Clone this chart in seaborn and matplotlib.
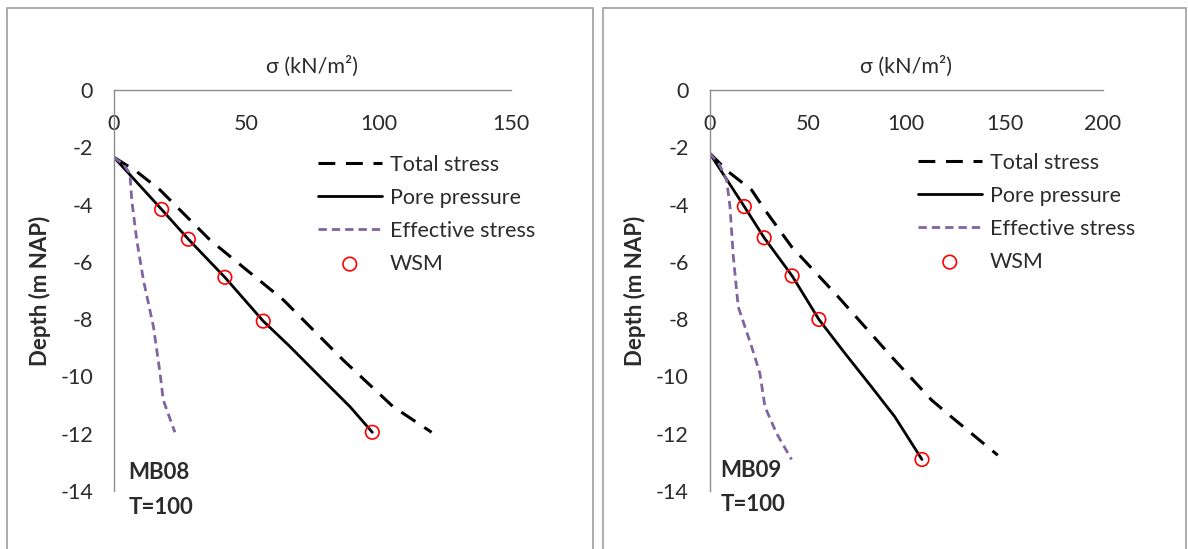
import matplotlib.pyplot as plt
from matplotlib.patches import Rectangle
import seaborn as sns

# MB08
mb08_total_x = [0, 8.6, 17.4, 36.3, 64.0, 86.6, 105.5, 120.0]
mb08_total_y = [-2.35, -2.85, -3.49, -5.24, -7.33, -9.43, -11.06, -11.95]
mb08_pore_x = [0, 18.0, 28.1, 41.9, 56.4, 66.5, 79.1, 89.2, 97.6]
mb08_pore_y = [-2.35, -4.17, -5.21, -6.54, -8.07, -8.96, -10.13, -11.06, -11.95]
mb08_eff_x = [0, 3.5, 6.0, 6.7, 8.6, 11.1, 14.9, 17.4, 18.6, 23.0]
mb08_eff_y = [-2.35, -2.6, -2.91, -3.84, -5.24, -6.63, -8.26, -9.89, -10.82, -11.95]
mb08_wsm_x = [18.0, 28.1, 41.9, 56.4, 97.6]
mb08_wsm_y = [-4.17, -5.21, -6.54, -8.07, -11.95]

# MB09
mb09_total_x = [0, 9.5, 21.4, 28.2, 41.7, 65.4, 92.5, 112.8, 122.9, 146.5]
mb09_total_y = [-2.2, -2.85, -3.49, -4.19, -5.47, -7.22, -9.31, -10.82, -11.41, -12.75]
mb09_pore_x = [0, 17.7, 27.8, 42.0, 55.6, 68.8, 82.3, 94.2, 108.0]
mb09_pore_y = [-2.2, -4.07, -5.16, -6.49, -8.01, -9.19, -10.36, -11.41, -12.9]
mb09_eff_x = [0, 5.0, 8.7, 10.4, 12.1, 14.6, 21.4, 25.6, 28.2, 34.1, 41.7]
mb09_eff_y = [-2.2, -2.6, -3.14, -4.07, -5.82, -7.57, -8.96, -9.89, -11.06, -11.99, -12.9]
mb09_wsm_x = [17.7, 27.8, 42.0, 55.6, 108.0]
mb09_wsm_y = [-4.07, -5.16, -6.49, -8.01, -12.9]

depth_ticks = [0, -2, -4, -6, -8, -10, -12, -14]

sns.set_style("white")
plt.rcParams['font.family'] = ['Lato', 'DejaVu Sans']
plt.rcParams['axes.unicode_minus'] = False

W, H = 1188, 549
fig = plt.figure(figsize=(W / 100, H / 100), dpi=100)

# panel frames
for x0, x1 in [(7, 593), (603, 1186)]:
    fig.add_artist(Rectangle((x0 / W, -0.05), (x1 - x0) / W, 1.05 - 8 / H,
                             transform=fig.transFigure, fill=False,
                             ec='#a6a6a6', lw=1.3))

PURPLE = '#8064a2'
TXT = '#2b2b2b'
FS = 15.5


def draw_panel(x0, x1, xmax, xticks, total, pore, eff, wsm, name, name_y, leg_xy):
    ax = fig.add_axes([x0 / W, 1 - 491 / H, (x1 - x0) / W, (491 - 90) / H])
    sns.lineplot(x=total[0], y=total[1], sort=False, estimator=None, ax=ax,
                 color='black', lw=2.2, linestyle=(0, (5.5, 3.5)), label='Total stress')
    sns.lineplot(x=pore[0], y=pore[1], sort=False, estimator=None, ax=ax,
                 color='black', lw=2.0, label='Pore pressure')
    sns.lineplot(x=eff[0], y=eff[1], sort=False, estimator=None, ax=ax,
                 color=PURPLE, lw=2.0, linestyle=(0, (3, 1.8)), label='Effective stress')
    sns.scatterplot(x=wsm[0], y=wsm[1], ax=ax, marker='o', s=95,
                    facecolor='none', edgecolor='red', linewidth=1.2,
                    label='WSM', zorder=4)

    ax.set_xlim(0, xmax)
    ax.set_ylim(-14, 0)
    ax.set_xticks(xticks)
    ax.set_yticks(depth_ticks)
    ax.xaxis.tick_top()
    ax.xaxis.set_label_position('top')
    ax.tick_params(axis='x', length=0, pad=-32, labelsize=FS, labelcolor=TXT)
    ax.tick_params(axis='y', length=0, pad=15, labelsize=FS, labelcolor=TXT)
    for s in ['right', 'bottom']:
        ax.spines[s].set_visible(False)
    for s in ['top', 'left']:
        ax.spines[s].set_color('#8c8c8c')
        ax.spines[s].set_linewidth(1.0)

    ax.set_xlabel('σ (kN/m²)', fontsize=FS, color=TXT, labelpad=12)
    ax.set_ylabel('Depth (m NAP)', fontsize=16, fontweight='bold',
                  color=TXT, labelpad=7)

    ax.text(5.5, name_y, name, fontsize=16, fontweight='bold', color=TXT,
            va='center', clip_on=False)
    ax.text(5.5, name_y - 1.2, 'T=100', fontsize=16, fontweight='bold', color=TXT,
            va='center', clip_on=False)

    handles, labels = ax.get_legend_handles_labels()
    ax.legend(handles, labels, loc='upper left', frameon=False,
              bbox_to_anchor=(leg_xy[0] / W, 1 - leg_xy[1] / H),
              bbox_transform=fig.transFigure, borderpad=0, borderaxespad=0,
              handlelength=2.95, handletextpad=0.38, labelspacing=0.6,
              fontsize=FS, labelcolor=TXT)
    return ax


draw_panel(114, 511, 150, [0, 50, 100, 150],
           (mb08_total_x, mb08_total_y), (mb08_pore_x, mb08_pore_y),
           (mb08_eff_x, mb08_eff_y), (mb08_wsm_x, mb08_wsm_y),
           'MB08', -13.37, (318, 155))
draw_panel(709.5, 1103, 200, [0, 50, 100, 150, 200],
           (mb09_total_x, mb09_total_y), (mb09_pore_x, mb09_pore_y),
           (mb09_eff_x, mb09_eff_y), (mb09_wsm_x, mb09_wsm_y),
           'MB09', -13.27, (918, 153))

fig.savefig('out.png', dpi=100)
plt.close(fig)
